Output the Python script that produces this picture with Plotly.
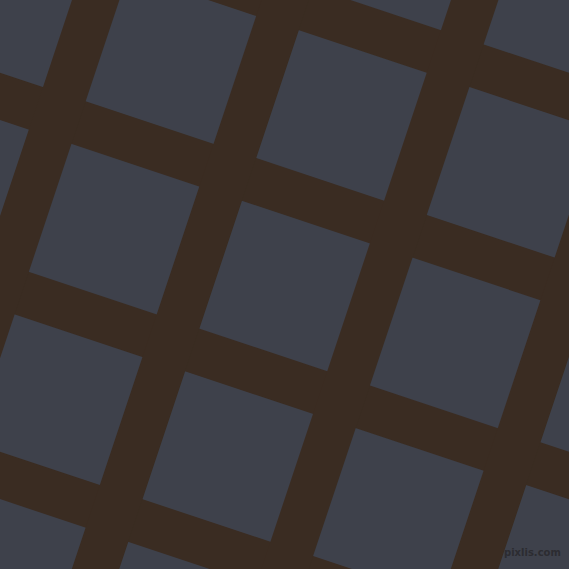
import plotly.graph_objects as go

# pattern data (pixel units of the 569x569 canvas)
SIZE = 569
SLOPE = 1 / 3                      # tan of the grid rotation
row_offsets = [-93.1, 96.4, 285.9, 475.4]      # y-intercepts of the "horizontal" band centres
col_offsets = [-93.8, 95.7, 285.2, 474.7, 664.2]  # x at y=0 of the "vertical" band centres
band_width = 45

BG = '#3e414b'
BAND = '#3a2c22'

fig = go.Figure()

xs = [-200, SIZE + 200]
for d in row_offsets:
    fig.add_trace(go.Scatter(
        x=xs, y=[x * SLOPE + d for x in xs], mode='lines',
        line=dict(color=BAND, width=band_width), hoverinfo='skip', showlegend=False
    ))

ys = [-200, SIZE + 200]
for c in col_offsets:
    fig.add_trace(go.Scatter(
        x=[c - y * SLOPE for y in ys], y=ys, mode='lines',
        line=dict(color=BAND, width=band_width), hoverinfo='skip', showlegend=False
    ))

fig.add_annotation(
    text='<b>pixlis.com</b>', x=532, y=552, xref='x', yref='y',
    showarrow=False, font=dict(family='DejaVu Sans', size=10, color='#2c2c31')
)

fig.update_layout(
    width=SIZE, height=SIZE,
    margin=dict(l=0, r=0, t=0, b=0),
    paper_bgcolor=BG, plot_bgcolor=BG,
    xaxis=dict(range=[0, SIZE], visible=False, fixedrange=True),
    yaxis=dict(range=[SIZE, 0], visible=False, fixedrange=True),
)

# the page's default body margin would shift the canvas
fig.write_html('out.html', config={'displayModeBar': False},
               post_script="document.body.style.margin='0';document.body.style.overflow='hidden';")
